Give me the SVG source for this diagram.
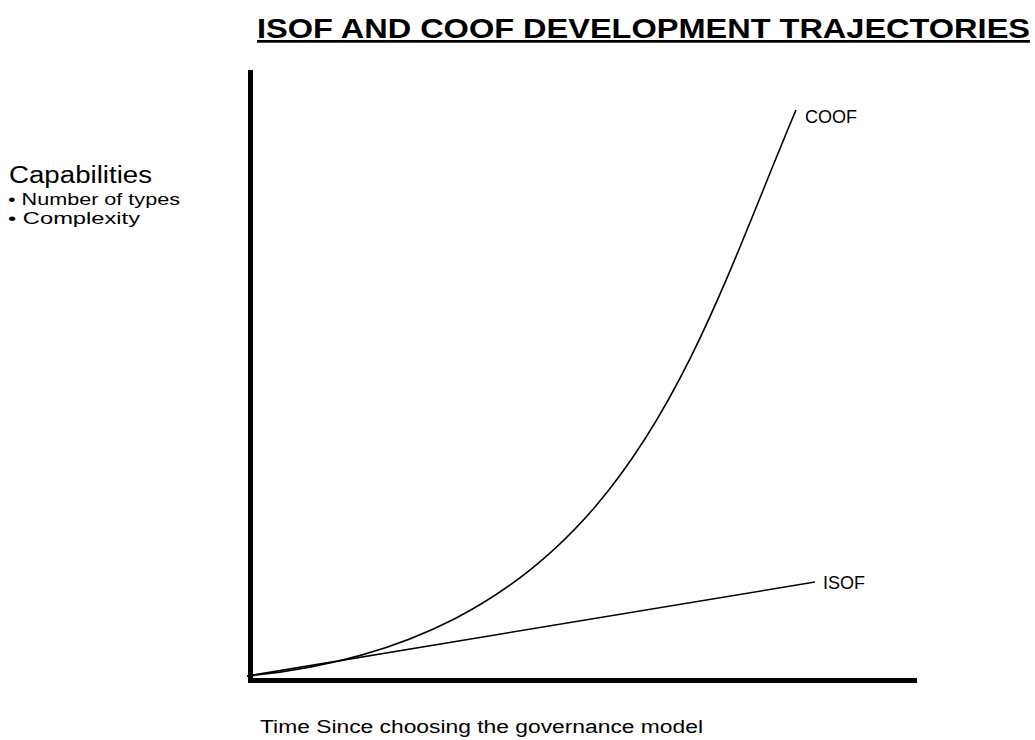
<svg xmlns="http://www.w3.org/2000/svg" width="1035" height="740" viewBox="0 0 1035 740">
<style>
text{font-family:"Liberation Sans",Arial,sans-serif;fill:#000}
.axis{stroke:#000;stroke-width:5;fill:none}
.curve{stroke:#000;stroke-width:1.6;fill:none}
</style>
<rect width="1035" height="740" fill="#fff"/>
<g id="title">
<text x="257" y="38" font-size="27" font-weight="bold" text-decoration="underline" textLength="773" lengthAdjust="spacingAndGlyphs">ISOF AND COOF DEVELOPMENT TRAJECTORIES</text>
</g>
<g id="y-label">
<text x="9" y="183" font-size="23" textLength="143" lengthAdjust="spacingAndGlyphs">Capabilities</text>
<text x="8" y="205" font-size="17" textLength="172" lengthAdjust="spacingAndGlyphs">• Number of types</text>
<text x="8" y="224" font-size="17" textLength="132" lengthAdjust="spacingAndGlyphs">• Complexity</text>
</g>
<g id="axes">
<line class="axis" x1="250.5" y1="70" x2="250.5" y2="683"/>
<line class="axis" x1="248" y1="680.5" x2="917" y2="680.5"/>
</g>
<g id="connectors">
<path id="coof-curve" class="curve" d="M247,676 C620,640 690,360 796,110"/>
<line id="isof-line" class="curve" x1="247" y1="676" x2="815" y2="582"/>
</g>
<g id="coof-label">
<text x="805" y="123" font-size="18">COOF</text>
</g>
<g id="isof-label">
<text x="823" y="589" font-size="18">ISOF</text>
</g>
<g id="x-label">
<text x="260" y="733" font-size="18" textLength="443" lengthAdjust="spacingAndGlyphs">Time Since choosing the governance model</text>
</g>
</svg>
